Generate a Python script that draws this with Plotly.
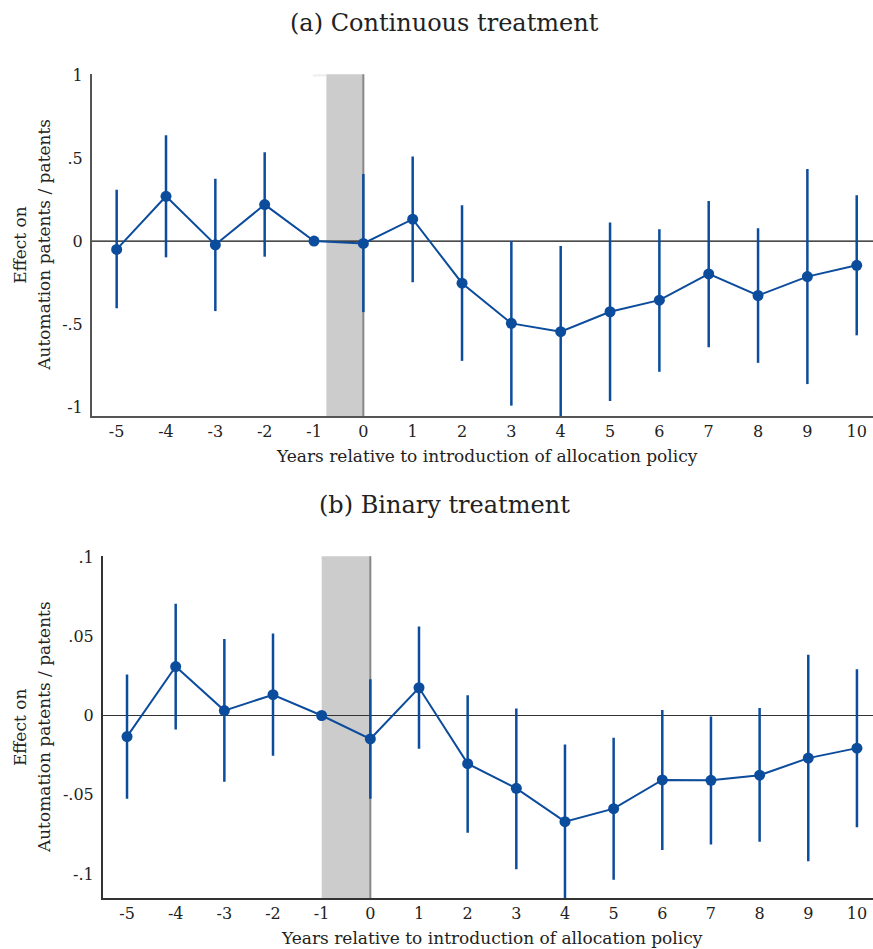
import plotly.graph_objects as go

years = [-5, -4, -3, -2, -1, 0, 1, 2, 3, 4, 5, 6, 7, 8, 9, 10]
tick_labels = [str(y) for y in years]

# (a) Continuous treatment
cont_est = [-0.05, 0.27, -0.022, 0.22, 0.0, -0.014, 0.132, -0.254, -0.496, -0.546,
            -0.426, -0.356, -0.198, -0.328, -0.214, -0.146]
cont_hi = [0.31, 0.638, 0.376, 0.536, 0.0, 0.404, 0.51, 0.216, 0.0, -0.03,
           0.112, 0.072, 0.242, 0.078, 0.434, 0.276]
cont_lo = [-0.405, -0.098, -0.422, -0.094, 0.0, -0.428, -0.248, -0.722, -0.992, -1.10,
           -0.964, -0.788, -0.64, -0.734, -0.862, -0.568]

# (b) Binary treatment
bin_est = [-0.0133, 0.0309, 0.0031, 0.0131, 0.0, -0.0148, 0.0175, -0.0304, -0.046, -0.067,
           -0.0588, -0.0407, -0.0409, -0.0377, -0.0269, -0.0206]
bin_hi = [0.0259, 0.0705, 0.0482, 0.0518, 0.0, 0.0228, 0.0561, 0.0128, 0.0044, -0.0183,
          -0.0141, 0.0034, -0.0006, 0.0048, 0.0384, 0.0292]
bin_lo = [-0.0526, -0.0088, -0.0419, -0.0254, 0.0, -0.0526, -0.021, -0.074, -0.097, -0.125,
          -0.1036, -0.0849, -0.0814, -0.0797, -0.092, -0.0705]

cont_yticks = [1, 0.5, 0, -0.5, -1]
cont_ytext = ["1", ".5", "0", "-.5", "-1"]
bin_yticks = [0.1, 0.05, 0, -0.05, -0.1]
bin_ytext = [".1", ".05", "0", "-.05", "-.1"]

W, H = 873, 949
BLUE = "#0c4c9c"
FONT = "DejaVu Serif"

fig = go.Figure()

def add_panel(est, hi, lo, xa, ya):
    plus = [h - e for h, e in zip(hi, est)]
    minus = [e - l for e, l in zip(est, lo)]
    fig.add_trace(go.Scatter(
        x=years, y=est, mode="lines+markers", xaxis=xa, yaxis=ya,
        line=dict(color=BLUE, width=2),
        marker=dict(color=BLUE, size=11),
        error_y=dict(type="data", array=plus, arrayminus=minus, symmetric=False,
                     color=BLUE, thickness=2.5, width=0),
        showlegend=False, hoverinfo="skip"))

add_panel(cont_est, cont_hi, cont_lo, "x", "y")
add_panel(bin_est, bin_hi, bin_lo, "x2", "y2")

def px_x(a, b):
    return [a / W, b / W]

def py(v):
    # vertical pixel position (from top) to paper fraction
    return 1 - v / H

axis_common = dict(showgrid=False, zeroline=False, ticks="", showline=True,
                   tickfont=dict(family=FONT, size=16, color="#222"))

fig.update_layout(
    width=W, height=H, margin=dict(l=0, r=0, t=0, b=0),
    paper_bgcolor="white", plot_bgcolor="white",
    font=dict(family=FONT, color="#222"),
    xaxis=dict(domain=px_x(92, 873), range=[-5.5, 10.33], tickvals=years, ticktext=tick_labels,
               anchor="y", linecolor="#555", linewidth=2, ticklabelstandoff=0, **axis_common),
    yaxis=dict(domain=[py(411), py(66)], range=[-1.055, 1.005], tickvals=cont_yticks, ticktext=cont_ytext,
               anchor="x", linecolor="#555", linewidth=2, ticklabelstandoff=4, **axis_common),
    xaxis2=dict(domain=px_x(102.7, 873), range=[-5.5, 10.33], tickvals=years, ticktext=tick_labels,
                anchor="y2", linecolor="#333", linewidth=1.5, ticklabelstandoff=0, **axis_common),
    yaxis2=dict(domain=[py(898), py(552.5)], range=[-0.1155, 0.1005], tickvals=bin_yticks, ticktext=bin_ytext,
                anchor="x2", linecolor="#333", linewidth=1.5, ticklabelstandoff=4, **axis_common),
)

shapes = [
    # panel a shading + reference lines
    dict(type="rect", xref="x", yref="y domain", x0=-0.75, x1=0, y0=0, y1=1,
         fillcolor="#cccccc", line=dict(width=0), layer="below"),
    dict(type="rect", xref="x", yref="y domain", x0=-1.02, x1=-0.75, y0=0.994, y1=1,
         fillcolor="#eeeeee", line=dict(width=0), layer="below"),
    dict(type="line", xref="x", yref="y domain", x0=0, x1=0, y0=0, y1=1,
         line=dict(color="#888888", width=2), layer="below"),
    dict(type="line", xref="x domain", yref="y", x0=0, x1=1, y0=0, y1=0,
         line=dict(color="#111111", width=1.2), layer="below"),
    # panel b
    dict(type="rect", xref="x2", yref="y2 domain", x0=-1, x1=0, y0=0, y1=1,
         fillcolor="#cccccc", line=dict(width=0), layer="below"),
    dict(type="line", xref="x2", yref="y2 domain", x0=0, x1=0, y0=0, y1=1,
         line=dict(color="#888888", width=2), layer="below"),
    dict(type="line", xref="x2 domain", yref="y2", x0=0, x1=1, y0=0, y1=0,
         line=dict(color="#333333", width=1.2), layer="below"),
]
fig.update_layout(shapes=shapes)

ann = []
def txt(x, y, s, size, angle=0):
    ann.append(dict(x=x / W, y=py(y), xref="paper", yref="paper", text=s, showarrow=False,
                    xanchor="center", yanchor="middle", textangle=angle,
                    font=dict(family=FONT, size=size, color="#222")))

txt(445, 14, "(a) Continuous treatment", 24)
txt(445, 501, "(b) Binary treatment", 24)
txt(487, 451, "Years relative to introduction of allocation policy", 17)
txt(492, 938, "Years relative to introduction of allocation policy", 17)
txt(20, 238, "Effect on", 17, -90)
txt(44, 238, "Automation patents / patents", 17, -90)
txt(20, 725, "Effect on", 17, -90)
txt(44, 725, "Automation patents / patents", 17, -90)
fig.update_layout(annotations=ann)

fig.write_html("out.html", config={"displayModeBar": False},
               post_script="document.body.style.margin='0';document.body.style.overflow='hidden';")
